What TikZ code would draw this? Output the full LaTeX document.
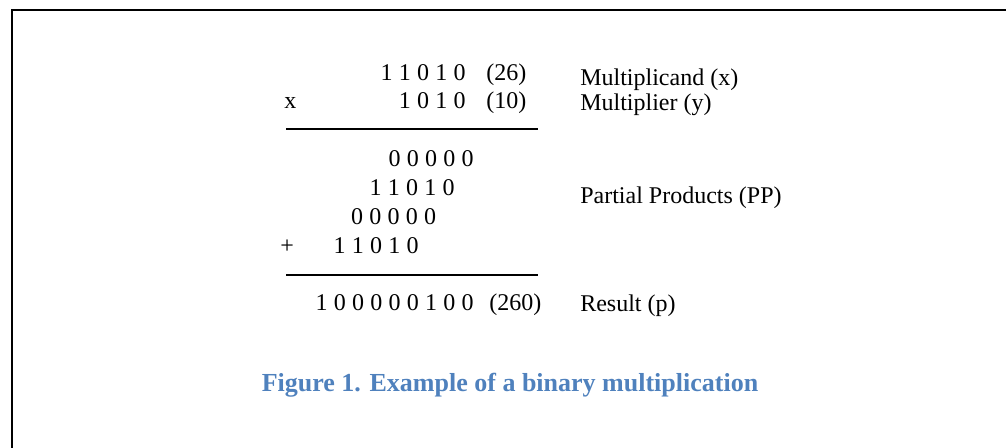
\documentclass[tikz,border=0pt]{standalone}
\usepackage{fontspec}
\setmainfont{Liberation Serif}
\definecolor{capblue}{HTML}{4F81BD}
% fixed gap between the digits of a binary number
\newcommand\dgap{\hspace{4.7pt}}
\begin{document}
\begin{tikzpicture}[x=0.75pt,y=-0.75pt,
  txt/.style={inner sep=0pt,font=\fontsize{18}{20}\selectfont},
  num/.style={txt,anchor=base east},
  lab/.style={txt,anchor=base west},
  rule/.style={line width=1.5pt},
  frame/.style={line width=1.5pt}]
\useasboundingbox (0,0) rectangle (1006,447);

% open frame (top and left edges)
\coordinate (fbl) at (12,450);
\coordinate (ftl) at (12,10);
\coordinate (ftr) at (1010,10);
\draw[frame] (fbl) -- (ftl) -- (ftr);

% operands
\node[num] (xval) at (466,80) {1\dgap1\dgap0\dgap1\dgap0};
\node[lab] (xdec) at (486,80) {(26)};
\node[lab] (times) at (284,108) {x};
\node[num] (yval) at (466,108) {1\dgap0\dgap1\dgap0};
\node[lab] (ydec) at (486,108) {(10)};

\coordinate (r1a) at (286,129);
\coordinate (r1b) at (538,129);
\draw[rule] (r1a) -- (r1b);

% partial products
\node[num] (pp0) at (474,166.5) {0\dgap0\dgap0\dgap0\dgap0};
\node[num] (pp1) at (455,195.5) {1\dgap1\dgap0\dgap1\dgap0};
\node[num] (pp2) at (436.5,224) {0\dgap0\dgap0\dgap0\dgap0};
\node[num] (pp3) at (419,253.5) {1\dgap1\dgap0\dgap1\dgap0};
\node[lab] (plus) at (280,253.5) {+};

\coordinate (r2a) at (286,275);
\coordinate (r2b) at (538,275);
\draw[rule] (r2a) -- (r2b);

% result
\node[num] (pval) at (474,310.5) {1\dgap0\dgap0\dgap0\dgap0\dgap0\dgap1\dgap0\dgap0};
\node[lab] (pdec) at (489,310.5) {(260)};

% descriptions
\node[lab] (lx) at (580,85) {Multiplicand (x)};
\node[lab] (ly) at (580,110) {Multiplier (y)};
\node[lab] (lpp) at (580,203) {Partial Products (PP)};
\node[lab] (lp) at (580,311) {Result (p)};

% caption
\node[inner sep=0pt,anchor=base,text=capblue,font=\fontsize{19.5}{22}\selectfont\bfseries]
  (cap) at (510,391) {Figure 1. Example of a binary multiplication};
\end{tikzpicture}
\end{document}
